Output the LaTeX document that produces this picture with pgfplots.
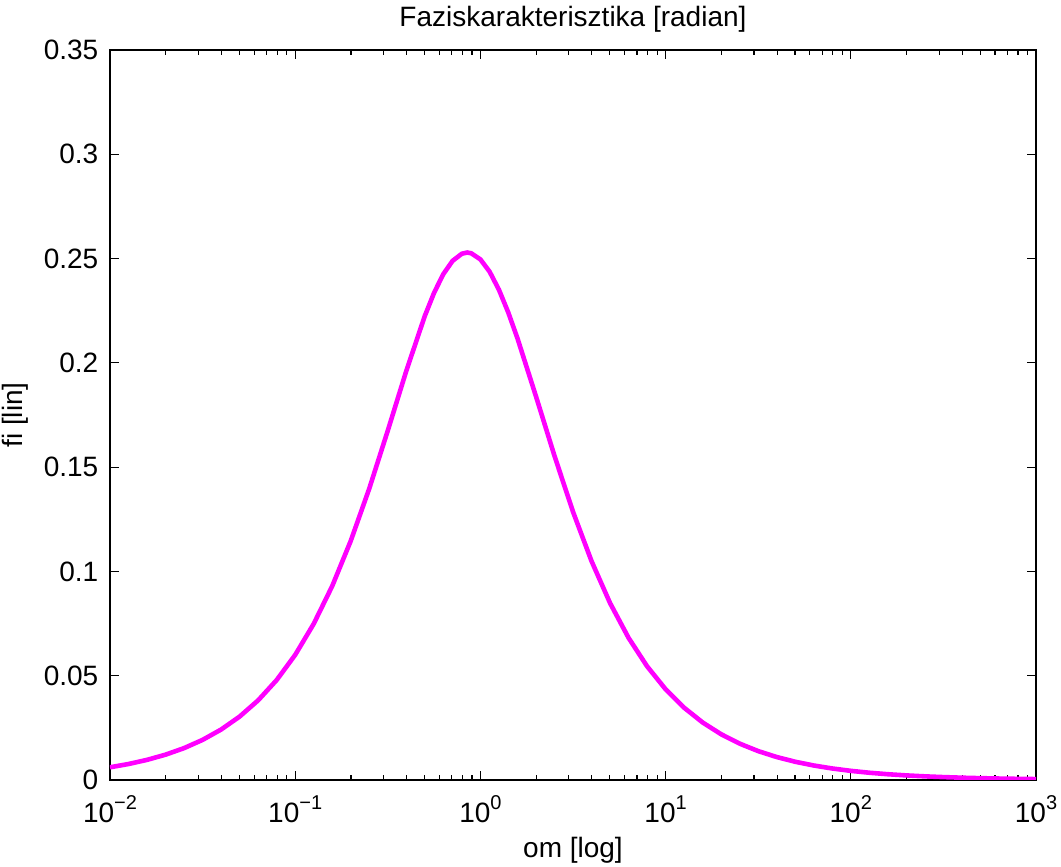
\documentclass[border=0pt]{standalone}
\usepackage{pgfplots}
\pgfplotsset{compat=1.18}
\usepackage{fontspec}
\setmainfont{Liberation Sans}
\definecolor{mag}{RGB}{255,0,255}
\newcommand{\fs}{\fontsize{14pt}{16pt}\selectfont}
\newcommand{\e}[1]{10\raisebox{0.45em}{\fontsize{10pt}{12pt}\selectfont #1}}
\begin{document}
\fs
\begin{tikzpicture}
\path[use as bounding box] (-55pt,-43.5pt) rectangle (475.5pt,390pt);
\begin{axis}[
  at={(0,0)}, anchor=south west,
  scale only axis, width=463pt, height=365pt,
  xmode=log, xmin=0.01, xmax=1000,
  ymin=0, ymax=0.35,
  xtick={0.01,0.1,1,10,100,1000},
  xticklabels={\e{−2},\e{−1},\e{0},\e{1},\e{2},\e{3}},
  ytick={0,0.05,0.1,0.15,0.2,0.25,0.3,0.35},
  yticklabels={0,0.05,0.1,0.15,0.2,0.25,0.3,0.35},
  xtick pos=both, ytick pos=both, tick align=inside,
  major tick length=4.5pt, minor tick length=2.5pt,
  every tick/.style={black, line width=0.6pt},
  axis line style={line width=1pt},
  ticklabel style={font=\fs},
  xticklabel style={yshift=-3pt, anchor=north},
  yticklabel style={xshift=-1pt},
  title={Faziskarakterisztika [radian]},
  title style={font=\fs, yshift=-2pt},
  xlabel={om [log]}, ylabel={fi [lin]},
  label style={font=\fs},
  xlabel style={yshift=2pt},
  ylabel style={yshift=-2pt},
]
\addplot[mag, line width=2.3pt] coordinates {
(0.01,0.00609) (0.012589,0.007665) (0.015849,0.009649) (0.019953,0.012144)
(0.025119,0.015284) (0.031623,0.019231) (0.039811,0.024192) (0.050119,0.030407)
(0.063096,0.038195) (0.079433,0.047918) (0.1,0.059994) (0.125893,0.074877)
(0.158489,0.092998) (0.199526,0.114639) (0.251189,0.139733) (0.316228,0.167513)
(0.398107,0.196151) (0.501187,0.222533) (0.562341,0.233611) (0.630957,0.242565)
(0.707946,0.248921) (0.794328,0.252319) (0.8485,0.2529) (0.891251,0.252553)
(1,0.249612) (1.122018,0.243670) (1.258925,0.235068) (1.412538,0.224269)
(1.584893,0.211802) (1.995262,0.183997) (2.511886,0.155420)
(3.162278,0.128632) (3.981072,0.104967) (5.011872,0.084845) (6.309573,0.068153)
(7.943282,0.054524) (10,0.043507) (12.5893,0.034658) (15.8489,0.027580)
(19.9526,0.021933) (25.1189,0.017434) (31.6228,0.013856)
(39.8107,0.011009) (50.1187,0.008746) (63.0957,0.006948) (79.4328,0.005520)
(100,0.004384) (125.893,0.003483) (158.489,0.002767) (199.526,0.002198)
(251.19,0.001746) (316.228,0.001387) (398.1,0.001101) (501.187,0.000875)
(630.96,0.000695) (794.328,0.000552) (1000,0.000438)
};
\end{axis}
\end{tikzpicture}
\end{document}
